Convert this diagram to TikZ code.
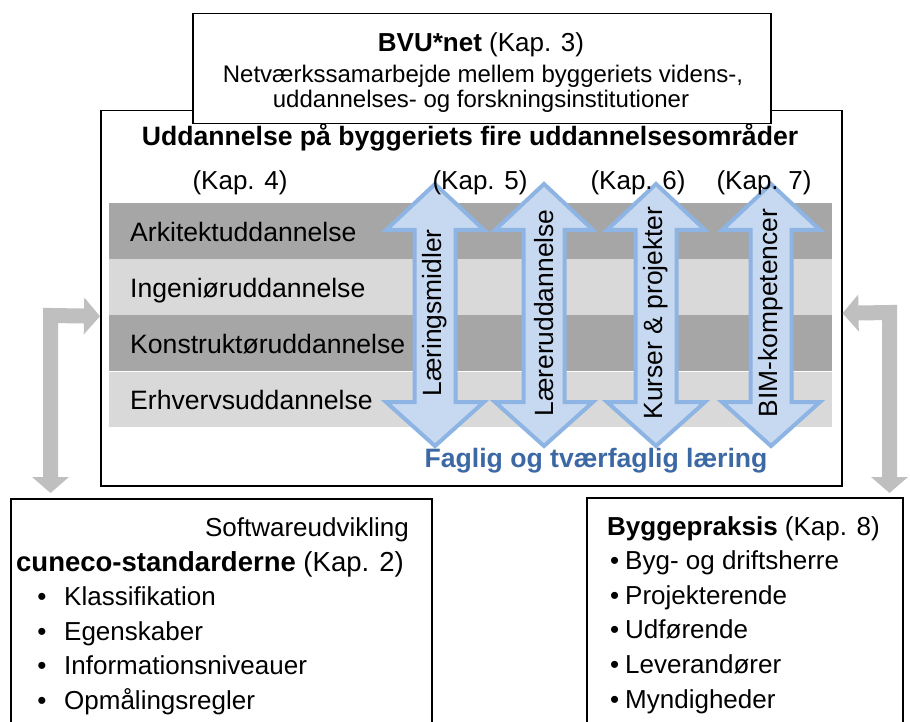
\documentclass[tikz,border=0pt]{standalone}
\usepackage{fontspec}
\setmainfont{Liberation Sans}
\usetikzlibrary{arrows.meta}
\definecolor{bandDark}{HTML}{A6A6A6}
\definecolor{bandLight}{HTML}{D9D9D9}
\definecolor{arrowGray}{HTML}{BFBFBF}
\definecolor{arrowFill}{HTML}{C6D9F1}
\definecolor{arrowLine}{HTML}{8DB4E2}
\definecolor{fagBlue}{HTML}{3C68A4}
\newcommand{\bluedbl}[3]{%
  \draw[bluearrow] (#2,184) -- (#2+49,230) -- (#2+20.5,230) -- (#2+20.5,402) -- (#2+49,402) -- (#2,446) -- (#2-49,402) -- (#2-20.5,402) -- (#2-20.5,230) -- (#2-49,230) -- cycle;
  \node[arrowtext] (#1) at (#2,313) {#3};}
\begin{document}
\begin{tikzpicture}[x=1pt,y=-1pt,
  boxstyle/.style={draw=black, line width=1.5pt, fill=white, inner sep=0pt, anchor=north west},
  txt/.style={inner sep=0pt, font=\fontsize{26}{31}\selectfont},
  bigtxt/.style={inner sep=0pt, font=\fontsize{26.6}{31}\selectfont},
  smalltxt/.style={inner sep=0pt, font=\fontsize{24}{29}\selectfont},
  arrowtext/.style={inner sep=0pt, font=\fontsize{26.4}{31}\selectfont, rotate=90},
  bluearrow/.style={draw=arrowLine, fill=arrowFill, line width=4pt, line join=miter},
  grayconn/.style={draw=arrowGray, line width=15pt, line join=miter,
    {Triangle[width=36pt,length=16pt]}-{Triangle[width=36pt,length=16pt]}}
]
\useasboundingbox (0,0) rectangle (910,722);
\clip (0,0) rectangle (910,722);
\fill[white] (0,0) rectangle (910,722);

% boxes
\node[boxstyle, minimum width=741pt, minimum height=375pt] (main) at (100,110) {};
\node[boxstyle, minimum width=578pt, minimum height=110pt] (bvu) at (192,13) {};
\node[boxstyle, minimum width=421pt, minimum height=280pt] (sw) at (10,498) {};
\node[boxstyle, minimum width=316pt, minimum height=280pt] (bp) at (586,497) {};

% bands
\fill[bandDark] (109,203) rectangle (832,259);
\fill[bandLight] (109,259) rectangle (832,315);
\fill[bandDark] (109,315) rectangle (832,370.5);
\fill[bandLight] (109,371.5) rectangle (832,427);

% gray connectors
\coordinate (lcorner) at (50.5,315.5);
\coordinate (rcorner) at (889.5,312.5);
\draw[grayconn, shorten >=5pt] ([yshift=-18pt]main.west) -- (lcorner) -- (lcorner |- sw.north);
\draw[grayconn, shorten >=4pt] ([yshift=-15pt]main.east) -- (rcorner) -- (rcorner |- bp.north);

% blue double arrows
\bluedbl{laer}{435}{Læringsmidler}
\bluedbl{laerer}{544}{Læreruddannelse}
\bluedbl{kurser}{656}{Kurser \& projekter}
\bluedbl{bim}{771}{BIM-kompetencer}

% BVU text
\node[txt, anchor=base] (bvutitle) at (481,52) {\textbf{BVU*net} (Kap. 3)};
\node[smalltxt, anchor=base] (bvu1) at (483,83) {Netværkssamarbejde mellem byggeriets videns-,};
\node[smalltxt, anchor=base] (bvu2) at (481,108) {uddannelses- og forskningsinstitutioner};

% main header
\node[bigtxt, anchor=base] (head) at (470,146) {\textbf{Uddannelse på byggeriets fire uddannelsesområder}};
\node[txt, anchor=base] (k4) at (240,190) {(Kap. 4)};
\node[txt, anchor=base] (k5) at (480,190) {(Kap. 5)};
\node[txt, anchor=base] (k6) at (638,190) {(Kap. 6)};
\node[txt, anchor=base] (k7) at (764,190) {(Kap. 7)};

% band texts
\node[bigtxt, anchor=base west] (ark) at (130,241) {Arkitektuddannelse};
\node[bigtxt, anchor=base west] (ing) at (130,297) {Ingeniøruddannelse};
\node[bigtxt, anchor=base west] (kon) at (130,353) {Konstruktøruddannelse};
\node[bigtxt, anchor=base west] (erh) at (130,409) {Erhvervsuddannelse};

\node[bigtxt, anchor=base, text=fagBlue] (fag) at (596,467) {\textbf{Faglig og tværfaglig læring}};

% left bottom box
\node[txt, anchor=base east] (soft) at (409,536) {Softwareudvikling};
\node[inner sep=0pt, font=\fontsize{27.5}{32}\selectfont, anchor=base west] (cun) at (16,571) {\textbf{cuneco-standarderne} (Kap. 2)};
\foreach \t [count=\i] in {Klassifikation, Egenskaber, Informationsniveauer, Opmålingsregler}{
  \node[txt, anchor=base] (lb\i) at (42,571+34.6*\i) {•};
  \node[txt, anchor=base west] (li\i) at (64,571+34.6*\i) {\t};
}

% right bottom box
\node[txt, anchor=base west] (bygp) at (607,535) {\textbf{Byggepraksis} (Kap. 8)};
\foreach \t [count=\i] in {Byg- og driftsherre, Projekterende, Udførende, Leverandører, Myndigheder}{
  \node[txt, anchor=base west] (rb\i) at (610,535+34.6*\i) {•};
  \node[txt, anchor=base west] (ri\i) at (625,535+34.6*\i) {\t};
}
\end{tikzpicture}
\end{document}
